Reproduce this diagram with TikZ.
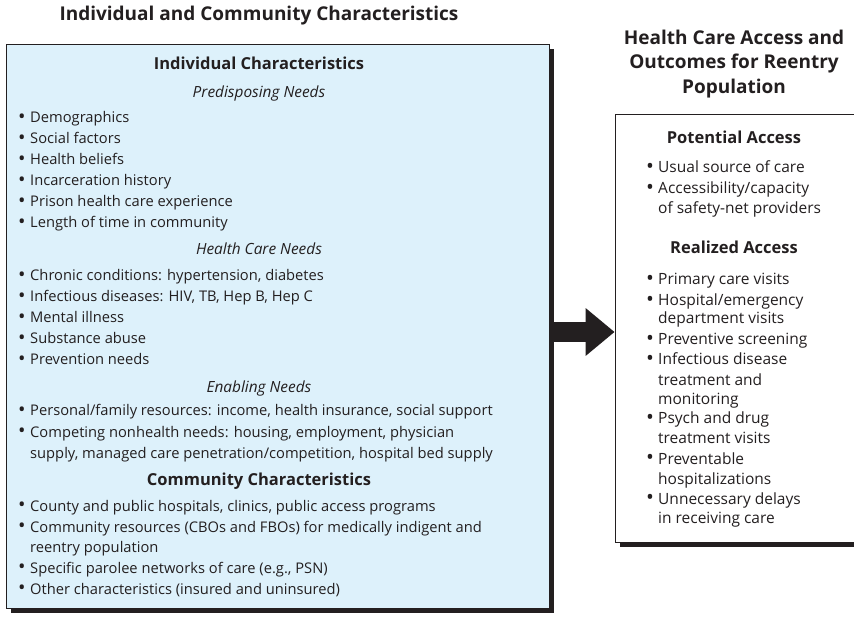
\documentclass[tikz,border=0pt]{standalone}
\usepackage{fontspec}
\setmainfont{Open Sans}
\usepackage{xcolor}
\usepackage{graphicx}
\usetikzlibrary{shadows,arrows.meta}
\definecolor{boxblue}{HTML}{DDF1FB}
\definecolor{ink}{HTML}{231F20}
\newcommand{\bul}{\makebox[12pt][l]{\raisebox{-.7pt}{\scalebox{1.35}{\textbullet}}}}
\tikzset{box/.style={draw=ink, line width=.8pt, inner sep=0pt,
  drop shadow={shadow xshift=5pt, shadow yshift=-5pt, fill=ink, opacity=1}}}
\tikzset{ttl/.style={anchor=base, text=ink, inner sep=0pt,
  font=\fontsize{19}{22}\selectfont\bfseries}}
\tikzset{hdr/.style={anchor=base, text=ink, inner sep=0pt,
  font=\fontsize{16.5}{20}\selectfont\bfseries}}
\tikzset{sub/.style={anchor=base, text=ink, inner sep=0pt,
  font=\fontsize{15.4}{20}\selectfont\itshape}}
\tikzset{itm/.style={anchor=base west, text=ink, inner sep=0pt,
  font=\fontsize{14.7}{20}\selectfont}}
\tikzset{ritm/.style={itm, font=\fontsize{15.5}{20}\selectfont}}
\tikzset{bigarrow/.style={draw=ink, line width=20pt,
  -{Triangle[length=29pt, width=46pt]}}}

\begin{document}
\begin{tikzpicture}[x=1pt, y=-1pt]
\useasboundingbox (0,0) rectangle (854,617);
\clip (0,0) rectangle (854,617);

\node[box, fill=boxblue, minimum width=543pt, minimum height=564pt] (indbox) at (277.5,326) {};
\node[box, fill=white, minimum width=245pt, minimum height=428pt] (accbox) at (737.5,328) {};
\draw[bigarrow] ([yshift=-4pt]accbox.west -| indbox.east) -- ([yshift=-4pt]accbox.west);

\node[ttl] (indttl) at (259,21) {Individual and Community Characteristics};
\node[hdr] (indhdr) at (259,70) {Individual Characteristics};
\node[sub] (predisp) at (259,98) {Predisposing Needs};
\node[itm] (pn1) at (18,123) {\bul Demographics};
\node[itm] (pn2) at (18,144) {\bul Social factors};
\node[itm] (pn3) at (18,165) {\bul Health beliefs};
\node[itm] (pn4) at (18,186) {\bul Incarceration history};
\node[itm] (pn5) at (18,207) {\bul Prison health care experience};
\node[itm] (pn6) at (18,228) {\bul Length of time in community};
\node[sub] (hcneeds) at (259,255) {Health Care Needs};
\node[itm] (hc1) at (18,281) {\bul Chronic conditions: hypertension, diabetes};
\node[itm] (hc2) at (18,302) {\bul Infectious diseases: HIV, TB, Hep B, Hep C};
\node[itm] (hc3) at (18,323) {\bul Mental illness};
\node[itm] (hc4) at (18,344) {\bul Substance abuse};
\node[itm] (hc5) at (18,365) {\bul Prevention needs};
\node[sub] (enab) at (259,392) {Enabling Needs};
\node[itm] (en1) at (18,416) {\bul Personal/family resources: income, health insurance, social support};
\node[itm] (en2) at (18,437) {\bul Competing nonhealth needs: housing, employment, physician};
\node[itm] (en2b) at (30,458) {supply, managed care penetration/competition, hospital bed supply};
\node[hdr] (comhdr) at (259,485) {Community Characteristics};
\node[itm] (cc1) at (18,511) {\bul County and public hospitals, clinics, public access programs};
\node[itm] (cc2) at (18,532) {\bul Community resources (CBOs and FBOs) for medically indigent and};
\node[itm] (cc2b) at (30,552) {reentry population};
\node[itm] (cc3) at (18,573) {\bul Specific parolee networks of care (e.g., PSN)};
\node[itm] (cc4) at (18,594) {\bul Other characteristics (insured and uninsured)};

\node[ttl] (accttl1) at (734,45) {Health Care Access and};
\node[ttl] (accttl2) at (734,69) {Outcomes for Reentry};
\node[ttl] (accttl3) at (734,94) {Population};
\node[hdr] (pothdr) at (734,144) {Potential Access};
\node[ritm] (pa1) at (646,173) {\bul Usual source of care};
\node[ritm] (pa2) at (646,194) {\bul Accessibility/capacity};
\node[ritm] (pa2b) at (658,214) {of safety-net providers};
\node[hdr] (realhdr) at (734,254) {Realized Access};
\node[ritm] (ra1) at (646,285) {\bul Primary care visits};
\node[ritm] (ra2) at (646,306) {\bul Hospital/emergency};
\node[ritm] (ra2b) at (658,324) {department visits};
\node[ritm] (ra3) at (646,345) {\bul Preventive screening};
\node[ritm] (ra4) at (646,365) {\bul Infectious disease};
\node[ritm] (ra4b) at (658,385) {treatment and};
\node[ritm] (ra4c) at (658,404) {monitoring};
\node[ritm] (ra5) at (646,424) {\bul Psych and drug};
\node[ritm] (ra5b) at (658,443) {treatment visits};
\node[ritm] (ra6) at (646,464) {\bul Preventable};
\node[ritm] (ra6b) at (658,484) {hospitalizations};
\node[ritm] (ra7) at (646,504) {\bul Unnecessary delays};
\node[ritm] (ra7b) at (658,523) {in receiving care};

\end{tikzpicture}
\end{document}
